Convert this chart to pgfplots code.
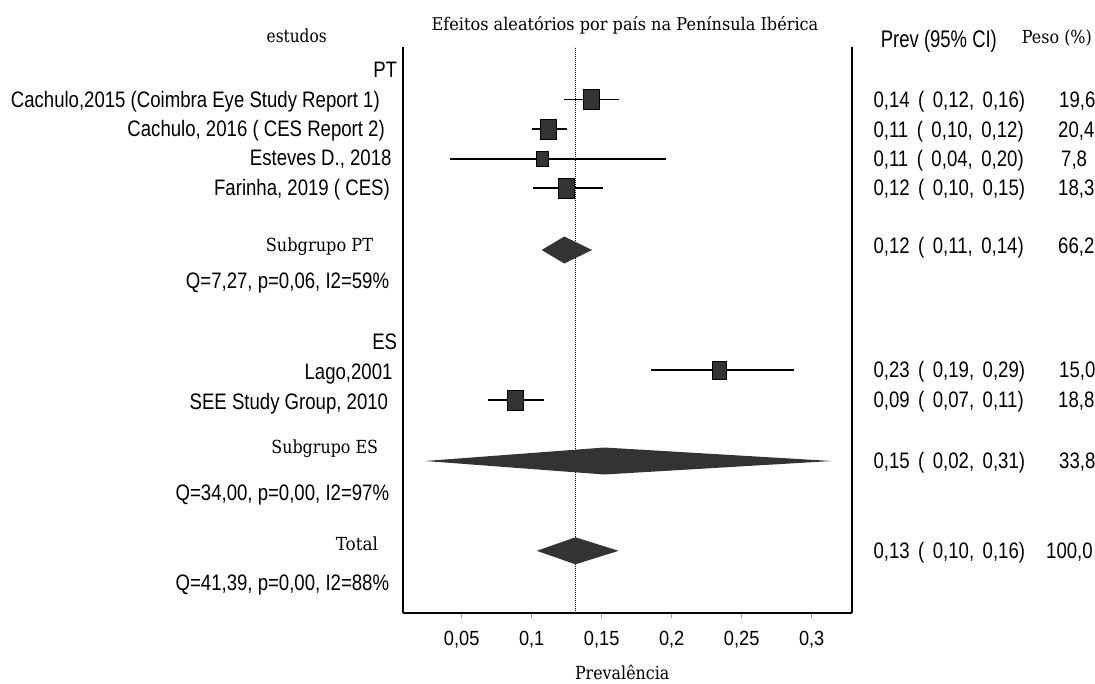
\documentclass[border=0pt]{standalone}
\usepackage{pgfplots}
\pgfplotsset{compat=1.18}
\usepackage{fontspec}
\usepackage{graphicx}
\setmainfont{DejaVu Serif}
\newfontfamily\ssf[FakeStretch=0.888]{Liberation Sans}
\newfontfamily\ssfb[FakeStretch=0.83]{Liberation Sans}
\newfontfamily\hsf{Liberation Sans}
\newfontfamily\srf{DejaVu Serif}
\definecolor{sq}{HTML}{333333}
\newcommand{\rb}[2]{\resizebox{#1}{\height}{#2}}
\newcommand{\ci}[3]{#1\hspace{8.5pt}(\hspace{8.5pt}#2,\hspace{8.5pt}#3)}
\newcommand{\fS}{\fontsize{22.4}{26}\ssfb}
\newcommand{\fR}{\fontsize{18}{22}\srf}
\begin{document}
\begin{tikzpicture}
\useasboundingbox (0pt,0pt) rectangle (1095pt,-683pt);
\clip (0pt,0pt) rectangle (1095pt,-683pt);
\begin{axis}[
  at={(403pt,-613pt)}, anchor=south west,
  scale only axis, width=449pt, height=566pt,
  xmin=0.00807, xmax=0.32879, ymin=-613, ymax=-47,
  axis x line*=bottom, axis y line*=box,
  ytick=\empty,
  xtick={0.05,0.1,0.15,0.2,0.25,0.3},
  xticklabels={{0,05},{0,1},{0,15},{0,2},{0,25},{0,3}},
  tick align=outside, major tick length=5pt,
  tick style={color=black!40, line width=0.8pt},
  axis line style={line width=1.6pt, black},
  xticklabel style={font=\fontsize{20.5}{24}\ssf, anchor=base, yshift=-27pt},
  clip=false]
% reference (dotted) line
\addplot[black, line width=1.6pt, dash pattern=on 1.3pt off 0.7pt] coordinates {(0.1312,-613) (0.1312,-47)};
% study squares
\addplot[only marks, mark=square*, mark size=10pt, mark options={xscale=0.82, fill=sq, draw=black, line width=0.9pt}] coordinates {(0.1426,-99.5)};
\addplot[only marks, mark=square*, mark size=10pt, mark options={xscale=0.82, fill=sq, draw=black, line width=0.9pt}] coordinates {(0.1121,-129)};
\addplot[only marks, mark=square*, mark size=7.5pt, mark options={xscale=0.84, fill=sq, draw=black, line width=0.9pt}] coordinates {(0.1078,-158.7)};
\addplot[only marks, mark=square*, mark size=10pt, mark options={xscale=0.82, fill=sq, draw=black, line width=0.9pt}] coordinates {(0.1250,-188.3)};
\addplot[only marks, mark=square*, mark size=8.8pt, mark options={xscale=0.81, fill=sq, draw=black, line width=0.9pt}] coordinates {(0.2340,-370.3)};
\addplot[only marks, mark=square*, mark size=10pt, mark options={xscale=0.82, fill=sq, draw=black, line width=0.9pt}] coordinates {(0.0883,-400)};
% confidence intervals
\addplot[black, line width=1.9pt] coordinates {(0.1233,-99.5) (0.1621,-99.5)};
\addplot[black, line width=1.9pt] coordinates {(0.1002,-129) (0.1250,-129)};
\addplot[black, line width=1.9pt] coordinates {(0.0414,-158.7) (0.1962,-158.7)};
\addplot[black, line width=1.9pt] coordinates {(0.1009,-188.3) (0.1510,-188.3)};
\addplot[black, line width=1.9pt] coordinates {(0.1850,-370.3) (0.2870,-370.3)};
\addplot[black, line width=1.9pt] coordinates {(0.0690,-400) (0.1086,-400)};
% pooled diamonds
\addplot[fill=sq, draw=none] coordinates {(0.1071,-250) (0.1233,-236.5) (0.1431,-250) (0.1233,-263.5) (0.1071,-250)};
\addplot[fill=sq, draw=none] coordinates {(0.0239,-461) (0.1519,-447.5) (0.3143,-461) (0.1519,-474.5) (0.0239,-461)};
\addplot[fill=sq, draw=none] coordinates {(0.1036,-550.8) (0.1312,-537.3) (0.1621,-550.8) (0.1312,-564.3) (0.1036,-550.8)};
\end{axis}
% headers
\node[anchor=base, inner sep=0] at (625pt,-30pt) {\rb{386.7pt}{\fontsize{17.5}{21}\srf Efeitos aleatórios por país na Península Ibérica}};
\node[anchor=base, inner sep=0] at (296.7pt,-42.7pt) {\rb{60pt}{\fR estudos}};
\node[anchor=base west, inner sep=0] at (880.7pt,-47.7pt) {\rb{116pt}{\fontsize{24}{28}\hsf Prev (95\% CI)}};
\node[anchor=base west, inner sep=0] at (1021.7pt,-43.3pt) {\rb{70pt}{\fR Peso (\%)}};
\node[anchor=base, inner sep=0] at (622.2pt,-679.3pt) {\rb{94.3pt}{\fR Prevalência}};
% left labels
\node[anchor=base east, inner sep=0] at (397.3pt,-77.3pt) {\fS PT};
\node[anchor=base east, inner sep=0] at (380pt,-107.3pt) {\fS Cachulo,2015 (Coimbra Eye Study Report 1)};
\node[anchor=base east, inner sep=0] at (385pt,-136.7pt) {\fS Cachulo, 2016 ( CES Report 2)};
\node[anchor=base east, inner sep=0] at (391.7pt,-165.7pt) {\fS Esteves D., 2018};
\node[anchor=base east, inner sep=0] at (390pt,-195.7pt) {\fS Farinha, 2019 ( CES)};
\node[anchor=base east, inner sep=0] at (373.3pt,-251.7pt) {\rb{107.3pt}{\fR Subgrupo PT}};
\node[anchor=base east, inner sep=0] at (389.3pt,-288.3pt) {\fS Q=7,27, p=0,06, I2=59\%};
\node[anchor=base east, inner sep=0] at (397.3pt,-349pt) {\fS ES};
\node[anchor=base east, inner sep=0] at (392.7pt,-379pt) {\fS Lago,2001};
\node[anchor=base east, inner sep=0] at (388.3pt,-409.3pt) {\fS SEE Study Group, 2010};
\node[anchor=base east, inner sep=0] at (378.3pt,-453.3pt) {\rb{106.7pt}{\fR Subgrupo ES}};
\node[anchor=base east, inner sep=0] at (389.3pt,-500.7pt) {\fS Q=34,00, p=0,00, I2=97\%};
\node[anchor=base east, inner sep=0] at (378.3pt,-550pt) {\rb{42.3pt}{\fR Total}};
\node[anchor=base east, inner sep=0] at (389.3pt,-590pt) {\fS Q=41,39, p=0,00, I2=88\%};
% right columns
\node[anchor=base west, inner sep=0] at (873.3pt,-107.3pt) {\fS\ci{0,14}{0,12}{0,16}};
\node[anchor=base west, inner sep=0] at (873.3pt,-137pt) {\fS\ci{0,11}{0,10}{0,12}};
\node[anchor=base west, inner sep=0] at (873.3pt,-166.5pt) {\fS\ci{0,11}{0,04}{0,20}};
\node[anchor=base west, inner sep=0] at (873.3pt,-195.7pt) {\fS\ci{0,12}{0,10}{0,15}};
\node[anchor=base west, inner sep=0] at (873.3pt,-253.5pt) {\fS\ci{0,12}{0,11}{0,14}};
\node[anchor=base west, inner sep=0] at (873.3pt,-377.8pt) {\fS\ci{0,23}{0,19}{0,29}};
\node[anchor=base west, inner sep=0] at (873.3pt,-407.5pt) {\fS\ci{0,09}{0,07}{0,11}};
\node[anchor=base west, inner sep=0] at (873.3pt,-468pt) {\fS\ci{0,15}{0,02}{0,31}};
\node[anchor=base west, inner sep=0] at (873.3pt,-558pt) {\fS\ci{0,13}{0,10}{0,16}};
\node[anchor=base west, inner sep=0] at (1059pt,-107.3pt) {\fS 19,6};
\node[anchor=base west, inner sep=0] at (1058pt,-137pt) {\fS 20,4};
\node[anchor=base west, inner sep=0] at (1061pt,-166.5pt) {\fS 7,8};
\node[anchor=base west, inner sep=0] at (1058pt,-195.7pt) {\fS 18,3};
\node[anchor=base west, inner sep=0] at (1058pt,-253.5pt) {\fS 66,2};
\node[anchor=base west, inner sep=0] at (1059pt,-377.8pt) {\fS 15,0};
\node[anchor=base west, inner sep=0] at (1058pt,-407.5pt) {\fS 18,8};
\node[anchor=base west, inner sep=0] at (1059pt,-468pt) {\fS 33,8};
\node[anchor=base west, inner sep=0] at (1046pt,-558pt) {\fS 100,0};
\end{tikzpicture}
\end{document}
